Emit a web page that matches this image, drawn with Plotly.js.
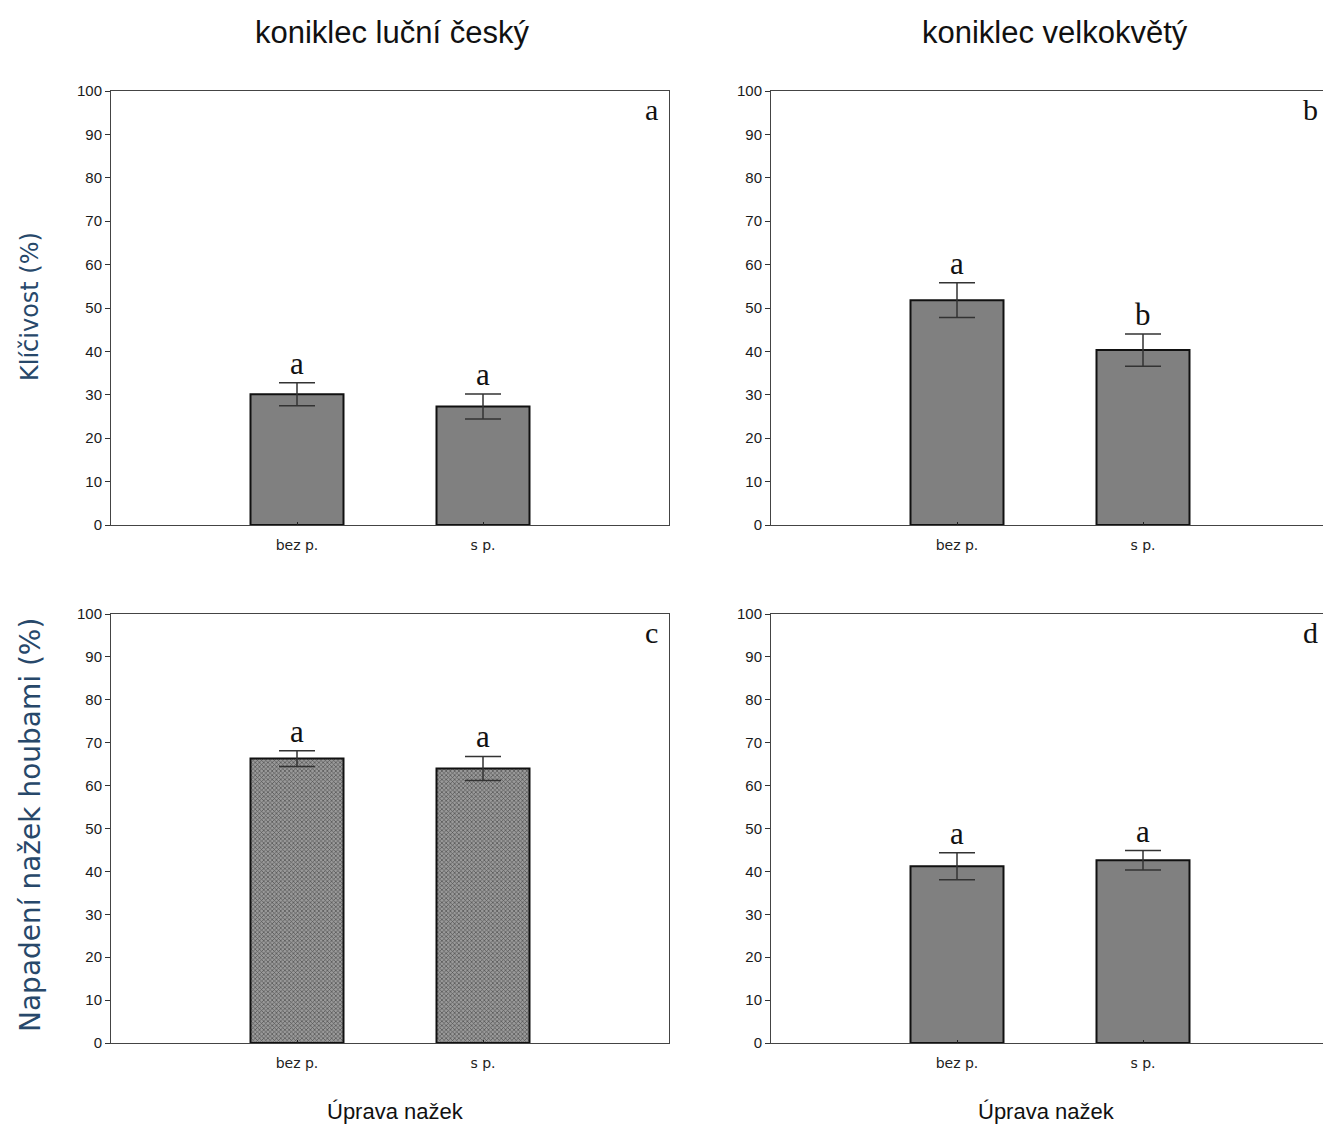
<!DOCTYPE html>
<html>
<head>
<meta charset="utf-8">
<script src="https://cdn.plot.ly/plotly-3.0.1.min.js"></script>
<style>
  html, body { margin: 0; padding: 0; overflow: hidden; background: #fff; }
  #chart { width: 1335px; height: 1128px; }
</style>
</head>
<body>
<div id="chart"></div>
<script>
// ---- data ----
const categories = ['bez p.', 's p.'];

const meansA = [30.1, 27.3];   // koniklec luční český – klíčivost
const errA   = [2.65, 2.9];
const lettersA = ['a', 'a'];

const meansB = [51.8, 40.3];   // koniklec velkokvětý – klíčivost
const errB   = [4.0, 3.7];
const lettersB = ['a', 'b'];

const meansC = [66.3, 64.0];   // koniklec luční český – napadení houbami
const errC   = [1.85, 2.8];
const lettersC = ['a', 'a'];

const meansD = [41.2, 42.6];   // koniklec velkokvětý – napadení houbami
const errD   = [3.15, 2.25];
const lettersD = ['a', 'a'];

const panelLetters = ['a', 'b', 'c', 'd'];
const columnTitles = ['koniklec luční český', 'koniklec velkokvětý'];
const rowTitles = ['Klíčivost (%)', 'Napadení nažek houbami (%)'];
const xTitle = 'Úprava nažek';

// ---- layout helpers ----
const W = 1335, H = 1128;
const colPx = [[111, 669], [771, 1329]];
const rowPx = [[91, 525], [614, 1043]];
const dx = p => [p[0] / W, p[1] / W];
const dy = p => [1 - p[1] / H, 1 - p[0] / H];

const panels = [
  {m: meansA, e: errA, l: lettersA, xa: 'x',  ya: 'y',  col: 0, row: 0, pattern: false},
  {m: meansB, e: errB, l: lettersB, xa: 'x2', ya: 'y2', col: 1, row: 0, pattern: false},
  {m: meansC, e: errC, l: lettersC, xa: 'x3', ya: 'y3', col: 0, row: 1, pattern: true},
  {m: meansD, e: errD, l: lettersD, xa: 'x4', ya: 'y4', col: 1, row: 1, pattern: false}
];

const traces = [];
const annotations = [];
const layout = {
  width: W, height: H,
  margin: {l: 0, r: 0, t: 0, b: 0},
  paper_bgcolor: '#fff', plot_bgcolor: '#fff',
  showlegend: false,
  font: {family: 'Liberation Sans, Arial, sans-serif', color: '#222'}
};

panels.forEach((p, i) => {
  const marker = {
    color: '#808080',
    line: {color: '#111', width: 2}
  };
  if (p.pattern) {
    marker.pattern = {shape: 'x', size: 3, solidity: 0.4, fgcolor: '#505050', bgcolor: '#9a9a9a'};
  }
  traces.push({
    type: 'bar',
    x: categories,
    y: p.m,
    xaxis: p.xa, yaxis: p.ya,
    width: 0.5,
    marker: marker,
    error_y: {type: 'data', array: p.e, visible: true, color: '#333', thickness: 1.5, width: 18},
    hoverinfo: 'x+y'
  });
  const xk = i === 0 ? 'xaxis' : 'xaxis' + (i + 1);
  const yk = i === 0 ? 'yaxis' : 'yaxis' + (i + 1);
  layout[xk] = {
    domain: dx(colPx[p.col]),
    anchor: p.ya,
    type: 'category',
    range: [-1, 2],
    showline: true, mirror: true, linecolor: '#444', linewidth: 1,
    ticks: 'inside', ticklen: 3, tickcolor: '#222',
    showgrid: false, zeroline: false,
    ticklabelstandoff: 7,
    tickfont: {family: 'DejaVu Sans, sans-serif', size: 14, color: '#222'},
    fixedrange: true
  };
  layout[yk] = {
    domain: dy(rowPx[p.row]),
    anchor: p.xa,
    range: [0, 100],
    dtick: 10,
    showline: true, mirror: true, linecolor: '#444', linewidth: 1,
    ticks: 'outside', ticklen: 5, tickcolor: '#333',
    showgrid: false, zeroline: false,
    tickfont: {family: 'Liberation Sans, Arial, sans-serif', size: 15, color: '#1a1a1a'},
    fixedrange: true
  };
  // significance letters above bars
  categories.forEach((c, j) => {
    annotations.push({
      x: c, y: p.m[j] + p.e[j], xref: p.xa, yref: p.ya,
      text: p.l[j], showarrow: false, yanchor: 'bottom', yshift: 0,
      font: {family: 'Liberation Serif, Times New Roman, serif', size: 31, color: '#111'}
    });
  });
  // panel letter
  annotations.push({
    x: 1, y: 1, xref: p.xa + ' domain', yref: p.ya + ' domain',
    xanchor: 'right', yanchor: 'top', xshift: -9, yshift: 0,
    text: panelLetters[i], showarrow: false,
    font: {family: 'Liberation Serif, Times New Roman, serif', size: 30, color: '#111'}
  });
});

// column titles
const titleCx = [392, 1055];
const xTitleCx = [395, 1046];
columnTitles.forEach((t, k) => {
  annotations.push({
    x: titleCx[k] / W, y: 1 - 32 / H, xref: 'paper', yref: 'paper',
    xanchor: 'center', yanchor: 'middle', showarrow: false, text: t,
    font: {family: 'Liberation Sans, Arial, sans-serif', size: 31, color: '#111'}
  });
  annotations.push({
    x: xTitleCx[k] / W, y: 1 - 1111 / H, xref: 'paper', yref: 'paper',
    xanchor: 'center', yanchor: 'middle', showarrow: false, text: xTitle,
    font: {family: 'Liberation Sans, Arial, sans-serif', size: 22, color: '#111'}
  });
});

// row titles (y-axis titles)
const rowTitleCy = [307, 825];
const rowTitleSize = [24, 28];
rowTitles.forEach((t, k) => {
  annotations.push({
    x: 30 / W, y: 1 - rowTitleCy[k] / H, xref: 'paper', yref: 'paper',
    xanchor: 'center', yanchor: 'middle', showarrow: false, text: t, textangle: -90,
    font: {family: 'DejaVu Sans, sans-serif', size: rowTitleSize[k], color: '#27486a'}
  });
});

layout.annotations = annotations;

Plotly.newPlot('chart', traces, layout, {displayModeBar: false, staticPlot: true});
</script>
</body>
</html>
